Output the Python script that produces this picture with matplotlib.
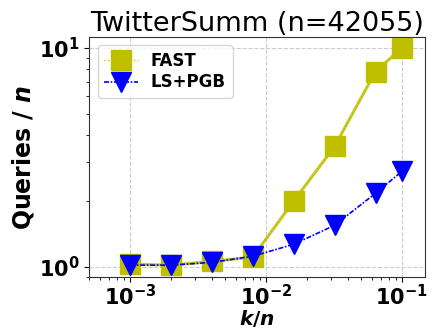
import numpy as np
import matplotlib
matplotlib.use("Agg")
import matplotlib.pyplot as plt

plt.rcParams.update({
    "font.family": "DejaVu Sans",
    "font.weight": "bold",
    "mathtext.fontset": "custom",
    "mathtext.rm": "DejaVu Sans:bold",
    "mathtext.it": "DejaVu Sans:italic:bold",
    "mathtext.bf": "DejaVu Sans:bold",
    })

#------------------------------data-------------------------------------
k_over_n = [0.001, 0.002, 0.004, 0.008, 0.016, 0.032, 0.064, 0.1]
fast = [1.03, 1.02, 1.06, 1.11, 2.0, 3.55, 7.8, 10.0]
ls_pgb = [1.02, 1.02, 1.05, 1.12, 1.27, 1.55, 2.17, 2.73]
#-----------------------------------------------------------------------

fig = plt.figure(figsize=(4.35, 3.31), dpi=100)
ax = fig.add_axes([0.205, 0.163, 0.772, 0.725])

ax.plot(k_over_n, fast, "-", color="y", lw=2.2, alpha=0.85)
ax.plot(k_over_n, fast, "s:", color="y", ms=14, lw=1, label="FAST")
ax.plot(k_over_n, ls_pgb, "v", color="b", ms=14, lw=1.2,
        ls=(0, (3, 1, 1, 1)), label="LS+PGB")

ax.set_xscale("log")
ax.set_yscale("log")
ax.set_xlim(5e-4, 0.148)
ax.set_ylim(0.9, 11.2)
ax.grid(True, which="major", ls="--", color="#cccccc", lw=0.8)

ax.tick_params(axis="both", which="major", labelsize=15)
ax.tick_params(axis="x", which="major", pad=1.5)
for s in ax.spines.values():
    s.set_color("#333333")

ax.set_title("TwitterSumm (n=42055)", fontsize=19.5, fontweight="normal", pad=1)
ax.set_xlabel("$k/n$", fontsize=14.5, labelpad=-1)
ax.set_ylabel("Queries / $n$", fontsize=17, fontweight="bold", labelpad=2)

leg = ax.legend(loc="upper left", prop={"weight": "bold", "size": 12},
                borderpad=0.4, handlelength=2.0, labelspacing=0.2,
                handletextpad=0.8)

fig.savefig("out.png", dpi=100)
